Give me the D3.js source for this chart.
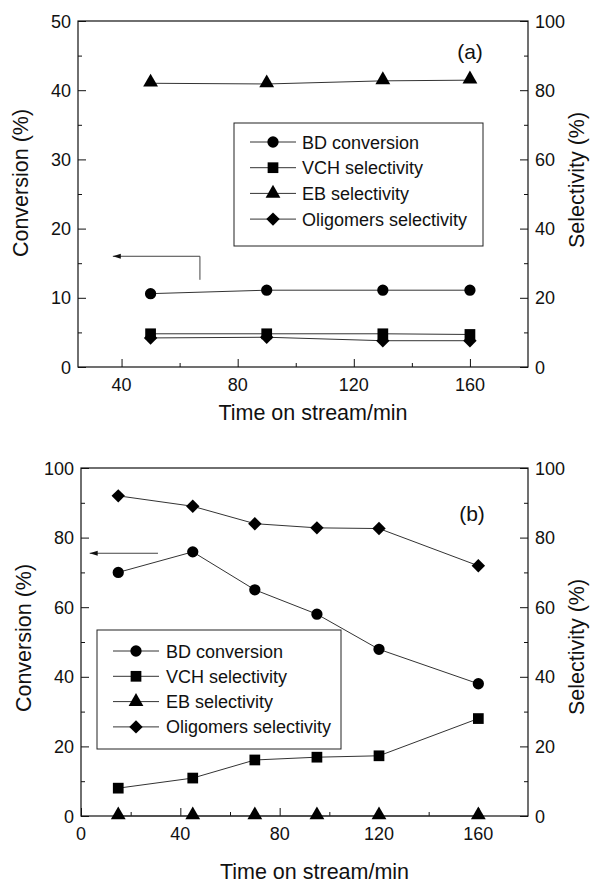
<!DOCTYPE html>
<html>
<head>
<meta charset="utf-8">
<script src="https://cdn.jsdelivr.net/npm/d3@7/dist/d3.min.js"></script>
<style>
  body { margin: 0; background: #fff; }
  svg { display: block; }
  text { font-family: "Liberation Sans", Arial, sans-serif; fill: #111; }
</style>
</head>
<body>
<svg id="chart" width="592" height="883"></svg>
<script>
// panel (a) data
var timeA = [50, 90, 130, 160];
var bdConvA = [10.6, 11.1, 11.1, 11.1];       // conversion, left axis
var vchSelA = [9.6, 9.6, 9.6, 9.4];           // selectivity, right axis
var ebSelA = [82.0, 81.8, 82.7, 82.9];
var oligSelA = [8.4, 8.6, 7.6, 7.6];

// panel (b) data
var timeB = [15, 45, 70, 95, 120, 160];
var bdConvB = [70.0, 75.9, 65.0, 58.0, 47.9, 38.0];
var vchSelB = [8.0, 10.9, 16.1, 16.9, 17.3, 28.0];
var ebSelB = [0, 0, 0, 0, 0, 0];
var oligSelB = [92.0, 89.0, 84.0, 82.8, 82.6, 71.9];

var seriesNames = ["BD conversion", "VCH selectivity", "EB selectivity", "Oligomers selectivity"];
var seriesShapes = ["circle", "square", "triangle", "diamond"];

var xTicksA = [40, 80, 120, 160];
var xTicksB = [0, 40, 80, 120, 160];

var svg = d3.select("#chart");

// square-ish diamond, d3's own diamond is too tall
var squareDiamond = {
  draw: function(ctx, size) {
    var r = Math.sqrt(size / 2);
    ctx.moveTo(0, -r); ctx.lineTo(r, 0); ctx.lineTo(0, r); ctx.lineTo(-r, 0); ctx.closePath();
  }
};

function symbolPath(shape) {
  var s = {
    circle: d3.symbol(d3.symbolCircle, 100),
    square: d3.symbol(d3.symbolSquare, 115),
    triangle: d3.symbol(d3.symbolTriangle, 95),
    diamond: d3.symbol(squareDiamond, 90)
  };
  return s[shape]();
}

function drawPanel(cfg) {
  var g = svg.append("g");
  var x = d3.scaleLinear().domain(cfg.xDomain).range([cfg.left, cfg.right]);
  var yL = d3.scaleLinear().domain([0, cfg.yLeftMax]).range([cfg.bottom, cfg.top]);
  var yR = d3.scaleLinear().domain([0, 100]).range([cfg.bottom, cfg.top]);

  // frame
  g.append("rect")
    .attr("x", cfg.left).attr("y", cfg.top)
    .attr("width", cfg.right - cfg.left).attr("height", cfg.bottom - cfg.top)
    .attr("fill", "none").attr("stroke", "#111").attr("stroke-width", 1.2);

  // bottom axis (ticks inward)
  var xMinor = d3.range(cfg.xDomain[0] < 20 ? 20 : 60, 180, 40);
  var bx = g.append("g").attr("transform", "translate(0," + cfg.bottom + ")")
    .call(d3.axisTop(x).tickValues(xMinor).tickSize(4).tickFormat(""));
  bx.select(".domain").remove();
  var bx2 = g.append("g").attr("transform", "translate(0," + cfg.bottom + ")")
    .call(d3.axisTop(x).tickValues(cfg.xTicks).tickSize(8).tickFormat(""));
  bx2.select(".domain").remove();
  g.append("g").selectAll("text").data(cfg.xTicks).enter().append("text")
    .attr("x", function(d) { return x(d); })
    .attr("y", cfg.bottom + 24)
    .attr("text-anchor", "middle")
    .attr("font-size", 18)
    .text(function(d) { return d; });

  // left axis
  var lStep = cfg.yLeftMax / 5;
  var la = g.append("g").attr("transform", "translate(" + cfg.left + ",0)")
    .call(d3.axisRight(yL).tickValues(d3.range(lStep / 2, cfg.yLeftMax, lStep)).tickSize(4).tickFormat(""));
  la.select(".domain").remove();
  var la2 = g.append("g").attr("transform", "translate(" + cfg.left + ",0)")
    .call(d3.axisRight(yL).tickValues(d3.range(0, cfg.yLeftMax + 0.01, lStep)).tickSize(8).tickFormat(""));
  la2.select(".domain").remove();
  g.append("g").selectAll("text").data(d3.range(0, cfg.yLeftMax + 0.01, lStep)).enter().append("text")
    .attr("x", cfg.left - 7)
    .attr("y", function(d) { return yL(d) + 6.5; })
    .attr("text-anchor", "end")
    .attr("font-size", 18)
    .text(function(d) { return d; });

  // right axis
  var ra = g.append("g").attr("transform", "translate(" + cfg.right + ",0)")
    .call(d3.axisLeft(yR).tickValues(d3.range(10, 100, 20)).tickSize(4).tickFormat(""));
  ra.select(".domain").remove();
  var ra2 = g.append("g").attr("transform", "translate(" + cfg.right + ",0)")
    .call(d3.axisLeft(yR).tickValues(d3.range(0, 101, 20)).tickSize(8).tickFormat(""));
  ra2.select(".domain").remove();
  g.selectAll(".tick line").attr("stroke", "#111");
  g.append("g").selectAll("text").data(d3.range(0, 101, 20)).enter().append("text")
    .attr("x", cfg.right + 7)
    .attr("y", function(d) { return yR(d) + 6.5; })
    .attr("text-anchor", "start")
    .attr("font-size", 18)
    .text(function(d) { return d; });

  // axis titles
  g.append("text")
    .attr("transform", "translate(" + cfg.leftTitleX + "," + cfg.leftTitleY + ") rotate(-90)")
    .attr("text-anchor", "middle").attr("font-size", 21.5)
    .text("Conversion (%)");
  g.append("text")
    .attr("transform", "translate(" + cfg.rightTitleX + "," + cfg.rightTitleY + ") rotate(-90)")
    .attr("text-anchor", "middle").attr("font-size", 21.5)
    .text("Selectivity (%)");
  g.append("text")
    .attr("x", (cfg.left + cfg.right) / 2 + 10)
    .attr("y", cfg.xTitleY)
    .attr("text-anchor", "middle").attr("font-size", 21.5)
    .text("Time on stream/min");

  // panel label
  g.append("text")
    .attr("x", cfg.labelX).attr("y", cfg.labelY)
    .attr("text-anchor", "middle").attr("font-size", 21)
    .text(cfg.label);

  // series
  var series = [
    { vals: cfg.bd, y: yL, shape: "circle" },
    { vals: cfg.vch, y: yR, shape: "square" },
    { vals: cfg.eb, y: yR, shape: "triangle" },
    { vals: cfg.olig, y: yR, shape: "diamond" }
  ];
  var line = d3.line();
  series.forEach(function(s) {
    var pts = cfg.time.map(function(t, i) { return [x(t), s.y(s.vals[i])]; });
    g.append("path").attr("d", line(pts))
      .attr("fill", "none").attr("stroke", "#333").attr("stroke-width", 1);
  });
  series.forEach(function(s) {
    var dy = s.shape === "triangle" ? 1 : 0;
    g.append("g").selectAll("path").data(cfg.time).enter().append("path")
      .attr("d", symbolPath(s.shape))
      .attr("transform", function(t, i) {
        return "translate(" + x(t) + "," + (s.y(s.vals[i]) - dy) + ")";
      })
      .attr("fill", "#000");
  });

  // legend
  var lg = cfg.legend;
  g.append("rect")
    .attr("x", lg.x).attr("y", lg.y).attr("width", lg.w).attr("height", lg.h)
    .attr("fill", "#fff").attr("stroke", "#222").attr("stroke-width", 1);
  seriesNames.forEach(function(name, i) {
    var ry = lg.rowY + i * lg.rowStep;
    g.append("line")
      .attr("x1", lg.symX - 23).attr("x2", lg.symX + 23)
      .attr("y1", ry).attr("y2", ry)
      .attr("stroke", "#333").attr("stroke-width", 1);
    g.append("path").attr("d", symbolPath(seriesShapes[i]))
      .attr("transform", "translate(" + lg.symX + "," + ry + ")")
      .attr("fill", "#000");
    g.append("text")
      .attr("x", lg.textX).attr("y", ry + 6.5)
      .attr("font-size", 18)
      .text(name);
  });

  // arrow pointing to left axis
  var ar = cfg.arrow;
  var pts = ar.map(function(p) { return [x(p[0]), yL(p[1])]; });
  g.append("path").attr("d", line(pts))
    .attr("fill", "none").attr("stroke", "#444").attr("stroke-width", 1);
  var tip = pts[pts.length - 1];
  g.append("path")
    .attr("d", "M" + tip[0] + "," + tip[1] + " l8,-2.5 l0,5 z")
    .attr("fill", "#111");
}

drawPanel({
  xDomain: [25, 180], yLeftMax: 50,
  left: 78, right: 528, top: 21, bottom: 367,
  xTicks: xTicksA,
  time: timeA, bd: bdConvA, vch: vchSelA, eb: ebSelA, olig: oligSelA,
  leftTitleX: 28, leftTitleY: 183,
  rightTitleX: 584, rightTitleY: 180,
  xTitleY: 420,
  label: "(a)", labelX: 470, labelY: 59,
  legend: { x: 234, y: 123, w: 249, h: 123, rowY: 142, rowStep: 25.7, symX: 273, textX: 302 },
  arrow: [[67, 12.6], [67, 16], [37, 16]]
});

drawPanel({
  xDomain: [0, 180], yLeftMax: 100,
  left: 81, right: 528, top: 468, bottom: 816,
  xTicks: xTicksB,
  time: timeB, bd: bdConvB, vch: vchSelB, eb: ebSelB, olig: oligSelB,
  leftTitleX: 31, leftTitleY: 638,
  rightTitleX: 584, rightTitleY: 647,
  xTitleY: 879,
  label: "(b)", labelX: 472, labelY: 521,
  legend: { x: 97, y: 630, w: 244, h: 119, rowY: 651, rowStep: 25.3, symX: 136, textX: 166 },
  arrow: [[31, 75.5], [3.5, 75.5]]
});
</script>
</body>
</html>
